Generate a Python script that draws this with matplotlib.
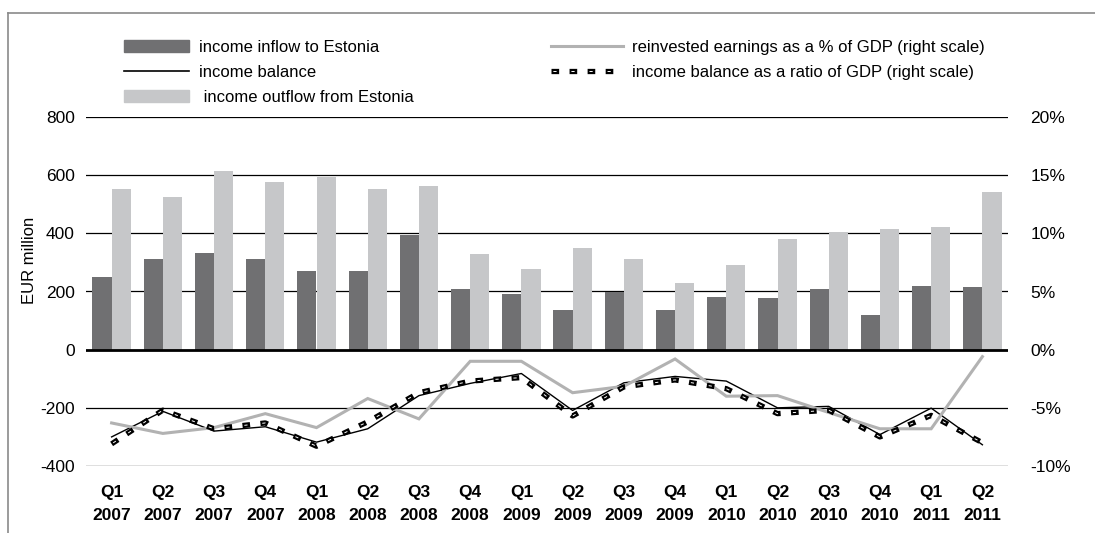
import matplotlib
matplotlib.use('Agg')
import matplotlib.pyplot as plt
from matplotlib.lines import Line2D
from matplotlib.patches import Patch
import numpy as np

plt.rcParams['font.family'] = ['Liberation Sans', 'DejaVu Sans']
plt.rcParams['axes.unicode_minus'] = False
plt.rcParams['lines.scale_dashes'] = False

quarters = ['Q1\n2007', 'Q2\n2007', 'Q3\n2007', 'Q4\n2007',
            'Q1\n2008', 'Q2\n2008', 'Q3\n2008', 'Q4\n2008',
            'Q1\n2009', 'Q2\n2009', 'Q3\n2009', 'Q4\n2009',
            'Q1\n2010', 'Q2\n2010', 'Q3\n2010', 'Q4\n2010',
            'Q1\n2011', 'Q2\n2011']
# EUR million
inflow = [250, 312, 331, 312, 270, 270, 393, 208, 190, 135, 197, 135,
          180, 177, 208, 118, 218, 215]
outflow = [552, 524, 614, 576, 593, 552, 562, 328, 276, 349, 311, 228,
           290, 380, 404, 414, 421, 542]
balance = [-300, -212, -280, -265, -318, -272, -158, -116, -82, -209, -114, -92,
           -108, -200, -195, -292, -201, -327]
# % of GDP (right scale)
reinvested_pct = [-6.3, -7.2, -6.7, -5.5, -6.7, -4.2, -5.95, -1.0, -1.0, -3.7, -3.15, -0.8,
                  -4.0, -3.95, -5.4, -6.8, -6.8, -0.6]
balance_pct = [-8.1, -5.2, -6.8, -6.3, -8.3, -6.2, -3.7, -2.7, -2.4, -5.7, -3.2, -2.6,
               -3.35, -5.5, -5.2, -7.5, -5.65, -8.0]

dark = '#707072'
light = '#c6c7c9'
grey_line = '#b2b2b2'
fs = 12
tick_fs = 12.5

fig = plt.figure(figsize=(10.95, 5.33), dpi=100)
ax = fig.add_axes([86/1095, 1-466/533, (1008-86)/1095, (466-117)/533])

x = np.arange(len(quarters))
w = 0.375
ax.bar(x - w/2, inflow, w, color=dark, zorder=2)
ax.bar(x + w/2, outflow, w, color=light, zorder=2)
ax.plot(x, balance, color='black', lw=1.0, zorder=3)

ax.set_xlim(-0.5, len(x) - 0.5)
ax.set_ylim(-400, 800)
yt = list(range(-400, 801, 200))
ax.set_yticks(yt)
ax.set_yticklabels([str(v) for v in yt], fontsize=tick_fs)
for v in yt:
    if v == 0:
        ax.axhline(v, color='black', lw=2.0, zorder=2.5)
    else:
        ax.axhline(v, color='black', lw=0.9, zorder=1)
ax.set_xticks(x)
ax.set_xticklabels(quarters, fontsize=12.5, fontweight='bold', linespacing=1.6)
ax.tick_params(length=0)
ax.tick_params(axis='y', pad=8)
ax.tick_params(axis='x', pad=14)
for s in ax.spines.values():
    s.set_visible(False)

ax2 = ax.twinx()
ax2.set_ylim(-10, 20)
rt = list(range(-10, 21, 5))
ax2.set_yticks(rt)
ax2.set_yticklabels([f'{v}%' for v in rt], fontsize=tick_fs)
ax2.tick_params(length=0, pad=16)
for s in ax2.spines.values():
    s.set_visible(False)

ax2.plot(x, reinvested_pct, color=grey_line, lw=2.2, solid_joinstyle='miter')
# thick black dashes with a thin white core
out_style = (0, (5.5, 7.5))
in_style = (11.65, (2.3, 10.7))
ax2.plot(x, balance_pct, color='black', lw=3.8, linestyle=out_style)
ax2.plot(x, balance_pct, color='white', lw=0.7, linestyle=in_style)

fig.text(29/1095, 1-260/533, 'EUR million', rotation=90, ha='center',
         va='center', fontsize=fs)

leg1 = fig.legend(handles=[Patch(color=dark), Line2D([], [], color='black', lw=1.2),
                           Patch(color=light)],
                  labels=['income inflow to Estonia', 'income balance',
                          ' income outflow from Estonia'],
                  loc='upper left', bbox_to_anchor=(124/1095, 1-40/533),
                  frameon=False, fontsize=fs, handlelength=3.9, handletextpad=0.62,
                  borderpad=0, borderaxespad=0, labelspacing=0.6)
dash_out_h = Line2D([], [], color='black', lw=3.8, linestyle=out_style)
dash_in_h = Line2D([], [], color='white', lw=0.7, linestyle=in_style)
leg2 = fig.legend(handles=[Line2D([], [], color=grey_line, lw=2.2),
                           (dash_out_h, dash_in_h)],
                  labels=['reinvested earnings as a % of GDP (right scale)',
                          'income balance as a ratio of GDP (right scale)'],
                  loc='upper left', bbox_to_anchor=(551/1095, 1-40/533),
                  frameon=False, fontsize=fs, handlelength=4.3, handletextpad=0.54,
                  borderpad=0, borderaxespad=0, labelspacing=0.6)

# outer frame: top and left edges only
frame_c = '#8a8a8a'
fig.add_artist(Line2D([8/1095, 1], [1-13/533, 1-13/533], transform=fig.transFigure,
                      color=frame_c, lw=1.2))
fig.add_artist(Line2D([8/1095, 8/1095], [0, 1-13/533], transform=fig.transFigure,
                      color=frame_c, lw=1.2))

fig.savefig('out.png', dpi=100)
